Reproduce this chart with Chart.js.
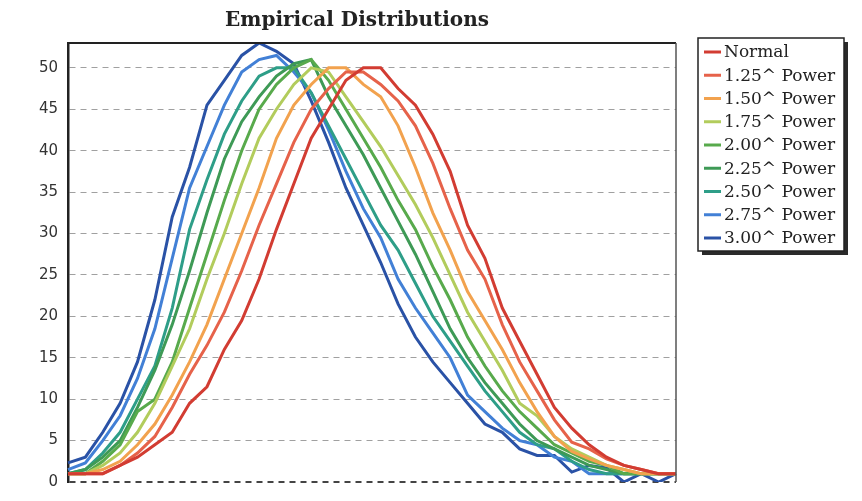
<!DOCTYPE html>
<html>
<head>
<meta charset="utf-8">
<title>Empirical Distributions</title>
<script src="https://cdn.jsdelivr.net/npm/chart.js@4.4.0/dist/chart.umd.min.js"></script>
<style>
  html, body { margin: 0; padding: 0; background: #fff; }
  canvas { display: block; }
</style>
</head>
<body>
<canvas id="distChart" width="862" height="501"></canvas>
<script>
// bins along the x axis (the original shows no x labels)
const bins = [1, 2, 3, 4, 5, 6, 7, 8, 9, 10, 11, 12, 13, 14, 15, 16, 17, 18,
              19, 20, 21, 22, 23, 24, 25, 26, 27, 28, 29, 30, 31, 32, 33, 34, 35, 36];

const seriesNames = ['Normal', '1.25^ Power', '1.50^ Power', '1.75^ Power', '2.00^ Power',
                     '2.25^ Power', '2.50^ Power', '2.75^ Power', '3.00^ Power'];

// counts per bin
const normal = [1, 1, 1, 2, 3, 4.5, 6, 9.5, 11.5, 16, 19.5, 24.5, 30.5, 36, 41.5, 45, 48.5, 50,
                50, 47.5, 45.5, 42, 37.5, 31, 27, 21, 17, 13, 9, 6.5, 4.5, 3, 2, 1.5, 1, 1];
const pow125 = [1, 1, 1, 2, 3.5, 5.5, 9, 13, 16.5, 20.5, 25.5, 31, 36, 41, 45, 47.5, 49.5, 49.5,
                48, 46, 43, 38.5, 33, 28, 24.5, 19, 14.5, 11, 7.5, 4.8, 4, 2.8, 2, 1.5, 1, 1];
const pow150 = [1, 1, 1.5, 2.5, 4.5, 7, 10.5, 14.5, 19, 24.5, 30, 35.5, 41.5, 45.5, 48, 50, 50, 48,
                46.5, 43, 38, 32.5, 28, 23, 19.5, 16, 12, 8.5, 5.5, 3.7, 2.8, 2, 1.5, 1, 1, 1];
const pow175 = [1, 1, 2, 3.5, 6, 9.5, 14, 18.5, 24.5, 30, 36, 41.5, 45, 48, 50, 49.5, 46.5, 43.5,
                40.5, 37, 33.5, 29.5, 25, 20.5, 17, 13.5, 9.5, 8, 5.5, 4, 3, 2, 1.5, 1, 1, 1];
const pow200 = [1, 1, 2.5, 4.5, 8.5, 10, 14.5, 21, 27.5, 34, 40, 45, 48, 50, 51, 48.5, 45, 41.5,
                38, 34, 30.5, 26, 22, 17.5, 14, 11, 8.5, 6.5, 4.5, 3.5, 2.5, 2, 1, 1, 1, 1];
const pow225 = [1, 1.5, 3, 5, 9, 13.5, 19, 25.5, 32.5, 39, 43.5, 46.5, 49, 50.5, 51, 46.5, 43, 39.5,
                35.5, 31.5, 27.5, 23, 18.5, 15, 12, 9.5, 7, 5, 4, 3, 2, 1.5, 1, 1, 1, 1];
const pow250 = [1, 1.5, 3.5, 6, 10, 14, 21, 30.5, 36.5, 42, 46, 49, 50, 50, 47, 43, 39, 35,
                31, 28, 24, 20, 17, 14, 11, 8.5, 6, 4.5, 4, 2.5, 1.5, 1, 1, 1, 1, 1];
const pow275 = [1.5, 2.3, 5, 8, 12.5, 18.5, 27, 35.5, 40.5, 45.5, 49.5, 51, 51.5, 49.5, 47, 42.5, 37.5, 33,
                29.5, 24.5, 21, 18, 15, 10.5, 8.5, 6.5, 5, 4.5, 3, 2.5, 1, 1, 1, 1, 1, 1];
const pow300 = [2.3, 3, 6, 9.5, 14.5, 22, 32, 38, 45.5, 48.5, 51.5, 53, 52, 50.5, 46, 41, 35.5, 31,
                26.5, 21.5, 17.5, 14.5, 12, 9.5, 7, 6, 4, 3.2, 3.2, 1.2, 2, 1.7, 0, 1, 0, 1];

const yTicks = [0, 5, 10, 15, 20, 25, 30, 35, 40, 45, 50];
const yMax = 53;

const seriesData = [normal, pow125, pow150, pow175, pow200, pow225, pow250, pow275, pow300];
const seriesColors = ['#d23c32', '#e6624a', '#f2a24e', '#b2cc5c', '#58aa4c',
                      '#3e9a56', '#2e9e88', '#4280d6', '#2a52a6'];

// plot frame (top / right) and the boxed legend with its shadow
const frameAndLegend = {
    id: 'frameAndLegend',
    afterDraw(chart) {
        const { ctx, chartArea: a } = chart;
        ctx.save();
        ctx.strokeStyle = '#222';
        ctx.lineWidth = 2;
        ctx.beginPath();
        ctx.moveTo(a.left, a.top);
        ctx.lineTo(a.right, a.top);
        ctx.stroke();
        ctx.strokeStyle = '#555';
        ctx.lineWidth = 1.5;
        ctx.beginPath();
        ctx.moveTo(a.right, a.top);
        ctx.lineTo(a.right, a.bottom);
        ctx.stroke();

        const bx = a.right + 22, by = 38, bw = 146, bh = 213;
        ctx.fillStyle = '#2a2a2a';
        ctx.fillRect(bx + 4, by + 4, bw, bh);
        ctx.fillStyle = '#fff';
        ctx.fillRect(bx, by, bw, bh);
        ctx.strokeStyle = '#222';
        ctx.lineWidth = 1.5;
        ctx.strokeRect(bx, by, bw, bh);

        ctx.font = '17px "DejaVu Serif"';
        ctx.textBaseline = 'middle';
        chart.data.datasets.forEach((ds, i) => {
            const y = by + 14 + i * 23.25;
            ctx.strokeStyle = ds.borderColor;
            ctx.lineWidth = 3;
            ctx.beginPath();
            ctx.moveTo(bx + 6, y);
            ctx.lineTo(bx + 23, y);
            ctx.stroke();
            ctx.fillStyle = '#222';
            ctx.fillText(ds.label, bx + 26, y + 1);
        });
        ctx.restore();
    }
};

const ctx = document.getElementById('distChart').getContext('2d');
const distChart = new Chart(ctx, {
    type: 'line',
    data: {
        labels: bins,
        datasets: seriesNames.map((name, i) => ({
            label: name,
            data: seriesData[i],
            borderColor: seriesColors[i],
            backgroundColor: seriesColors[i],
            borderWidth: 3,
            pointRadius: 0,
            tension: 0,
            fill: false
        }))
    },
    options: {
        responsive: false,
        animation: false,
        devicePixelRatio: 1,
        layout: { padding: { left: 38, right: 186, top: 0, bottom: 14 } },
        plugins: {
            legend: { display: false },
            tooltip: { enabled: false },
            title: {
                display: true,
                text: 'Empirical Distributions',
                color: '#222',
                font: { family: '"DejaVu Serif"', size: 20, weight: 'bold' },
                padding: { top: 9, bottom: 10 }
            }
        },
        scales: {
            x: {
                display: false
            },
            y: {
                min: 0,
                max: yMax,
                afterBuildTicks: axis => {
                    axis.ticks = yTicks.map(v => ({ value: v }));
                },
                afterFit: axis => { axis.width = 30; },
                ticks: {
                    padding: 10,
                    color: '#333',
                    font: { family: '"DejaVu Sans"', size: 15 }
                },
                grid: {
                    drawTicks: false,
                    color: c => (c.tick && c.tick.value === 0 ? '#444' : '#a0a0a0'),
                    lineWidth: c => (c.tick && c.tick.value === 0 ? 2 : 1)
                },
                border: { display: true, color: '#222', width: 2.5, dash: [6, 5] }
            }
        }
    },
    plugins: [frameAndLegend]
});
</script>
</body>
</html>
